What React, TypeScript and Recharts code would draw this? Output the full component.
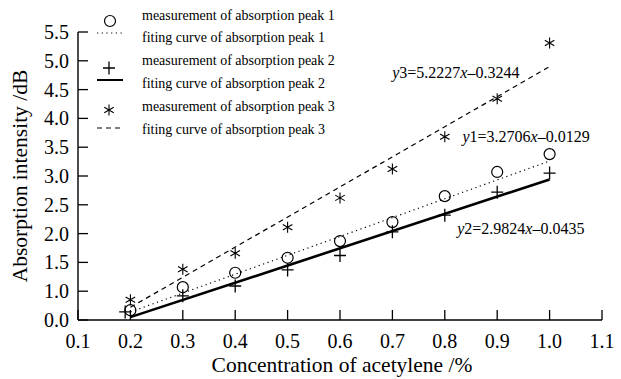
import { ScatterChart, Scatter, XAxis, YAxis, Legend, ReferenceDot, Label } from 'recharts';

const FONT = "'Liberation Serif', 'DejaVu Serif', serif";
const txt = { fontFamily: FONT };

// concentration of acetylene (%)
const concentration = [0.2, 0.3, 0.4, 0.5, 0.6, 0.7, 0.8, 0.9, 1.0];
const concentration2 = [0.19, 0.3, 0.4, 0.5, 0.6, 0.7, 0.8, 0.9, 1.0];

// measured absorption intensity (dB)
const peak1 = [0.67, 1.07, 1.32, 1.58, 1.87, 2.2, 2.65, 3.07, 3.38];
const peak2 = [0.64, 0.92, 1.09, 1.37, 1.62, 2.03, 2.32, 2.72, 3.05];
const peak3 = [0.85, 1.38, 1.66, 2.11, 2.62, 3.12, 3.68, 4.34, 5.31];

// fitted lines, end points
const fitX = [0.2, 1.0];
const fit1 = [0.64, 3.26];
const fit2 = [0.55, 2.94];
const fit3 = [0.72, 4.9];

const xTicks = [0.1, 0.2, 0.3, 0.4, 0.5, 0.6, 0.7, 0.8, 0.9, 1.0, 1.1];
const yTicks = [0.5, 1.0, 1.5, 2.0, 2.5, 3.0, 3.5, 4.0, 4.5, 5.0, 5.5];
const yTickLabels = ['0.0', '1.0', '1.5', '2.0', '2.5', '3.0', '3.5', '4.0', '4.5', '5.0', '5.5'];

// equation annotations, anchored in data coords
const eqNames = ['y3', 'y1', 'y2'];
const eqSlopes = ['5.2227', '3.2706', '2.9824'];
const eqIntercepts = ['0.3244', '0.0129', '0.0435'];
const eqX = [0.821, 0.955, 0.945];
const eqY = [4.79, 3.68, 2.08];

const toPoints = (xs: number[], ys: number[]) => xs.map((x, i) => ({ x, y: ys[i] }));

const Ring = ({ cx, cy }: any) => (
  <circle cx={cx} cy={cy} r={5.5} fill="none" stroke="#000" strokeWidth={1.2} />
);

const Cross = ({ cx, cy }: any) => (
  <path d={`M${cx - 6},${cy}H${cx + 6}M${cx},${cy - 6.5}V${cy + 6.5}`} stroke="#000" strokeWidth={1.3} fill="none" />
);

const Star = ({ cx, cy }: any) => {
  const r = 5.5;
  const dx = r * Math.cos(Math.PI / 6);
  const dy = r * Math.sin(Math.PI / 6);
  return (
    <path
      d={`M${cx},${cy - r}V${cy + r}M${cx - dx},${cy - dy}L${cx + dx},${cy + dy}M${cx - dx},${cy + dy}L${cx + dx},${cy - dy}`}
      stroke="#000"
      strokeWidth={1.1}
      fill="none"
    />
  );
};

const NoDot = () => <g />;

const XTick = ({ x, y, payload }: any) => (
  <g>
    <line x1={x} y1={y} x2={x} y2={y - 10} stroke="#000" strokeWidth={1.3} />
    <text x={x} y={y + 28} textAnchor="middle" fontSize={20} style={txt} fill="#000">
      {payload.value.toFixed(1)}
    </text>
  </g>
);

const YTick = ({ x, y, payload }: any) => {
  const idx = yTicks.indexOf(payload.value);
  return (
    <g>
      <line x1={x} y1={y} x2={x + 10} y2={y} stroke="#000" strokeWidth={1.3} />
      <text x={x - 9} y={y + 7} textAnchor="end" fontSize={20} style={txt} fill="#000">
        {yTickLabels[idx]}
      </text>
    </g>
  );
};

const Equation = (i: number) => (props: any) => (
  <text x={props.cx} y={props.cy + 5} textAnchor="middle" fontSize={16} style={txt} fill="#000">
    <tspan fontStyle="italic">y</tspan>
    {eqNames[i].slice(1)}={eqSlopes[i]}
    <tspan fontStyle="italic">x</tspan>–{eqIntercepts[i]}
  </text>
);

const legendRows = [
  'measurement of absorption peak 1',
  'fiting curve of absorption peak 1',
  'measurement of absorption peak 2',
  'fiting curve of absorption peak 2',
  'measurement of absorption peak 3',
  'fiting curve of absorption peak 3',
];
const legendBaselines = [20, 42, 65, 88, 111, 134];

const LegendBox = () => (
  <svg width={360} height={145} style={{ display: 'block' }}>
    <Ring cx={110} cy={21} />
    <line x1={97} y1={33} x2={123} y2={33} stroke="#000" strokeWidth={1.2} strokeDasharray="1.2 3.5" />
    <Cross cx={109} cy={68} />
    <line x1={97} y1={80} x2={123} y2={80} stroke="#000" strokeWidth={2} />
    <Star cx={109} cy={110} />
    <line x1={97} y1={128} x2={123} y2={128} stroke="#000" strokeWidth={1.2} strokeDasharray="5 4" />
    {legendRows.map((t, i) => (
      <text key={t} x={142} y={legendBaselines[i]} fontSize={14} style={txt} fill="#000">
        {t}
      </text>
    ))}
  </svg>
);

export default function App() {
  return (
    <div style={{ position: 'absolute', left: 0, top: 0, background: '#fff', fontFamily: FONT }}>
      <ScatterChart width={621} height={379} margin={{ top: 32, right: 19, bottom: 19, left: 0 }}>
        <XAxis
          type="number"
          dataKey="x"
          domain={[0.1, 1.1]}
          ticks={xTicks}
          interval={0}
          allowDataOverflow
          height={40}
          tickSize={0}
          tickMargin={0}
          tickLine={false}
          axisLine={{ stroke: '#000', strokeWidth: 1.4 }}
          tick={(p: any) => <XTick {...p} />}
        >
          <Label
            content={({ viewBox }: any) => (
              <text x={viewBox.x + viewBox.width / 2 + 2} y={372} textAnchor="middle" fontSize={21.5} style={txt} fill="#000">
                Concentration of acetylene /%
              </text>
            )}
          />
        </XAxis>
        <YAxis
          type="number"
          dataKey="y"
          domain={[0.5, 5.5]}
          ticks={yTicks}
          interval={0}
          allowDataOverflow
          width={78}
          tickSize={0}
          tickMargin={0}
          tickLine={false}
          axisLine={{ stroke: '#000', strokeWidth: 1.4 }}
          tick={(p: any) => <YTick {...p} />}
        >
          <Label
            content={() => (
              <text x={27} y={176} transform="rotate(-90, 27, 176)" textAnchor="middle" fontSize={21.5} style={txt} fill="#000">
                Absorption intensity /dB
              </text>
            )}
          />
        </YAxis>
        <Legend
          layout="vertical"
          align="center"
          verticalAlign="middle"
          wrapperStyle={{ left: 0, top: 0, width: 360, height: 145 }}
          content={() => <LegendBox />}
        />
        <Scatter data={toPoints(fitX, fit1)} shape={NoDot} line={{ stroke: '#000', strokeWidth: 1.2, strokeDasharray: '1.2 3.5' }} isAnimationActive={false} />
        <Scatter data={toPoints(fitX, fit2)} shape={NoDot} line={{ stroke: '#000', strokeWidth: 2.6 }} isAnimationActive={false} />
        <Scatter data={toPoints(fitX, fit3)} shape={NoDot} line={{ stroke: '#000', strokeWidth: 1.2, strokeDasharray: '5 4' }} isAnimationActive={false} />
        <Scatter data={toPoints(concentration, peak1)} shape={Ring} isAnimationActive={false} />
        <Scatter data={toPoints(concentration2, peak2)} shape={Cross} isAnimationActive={false} />
        <Scatter data={toPoints(concentration, peak3)} shape={Star} isAnimationActive={false} />
        {eqNames.map((n, i) => (
          <ReferenceDot key={n} x={eqX[i]} y={eqY[i]} r={0} shape={Equation(i)} />
        ))}
      </ScatterChart>
    </div>
  );
}
